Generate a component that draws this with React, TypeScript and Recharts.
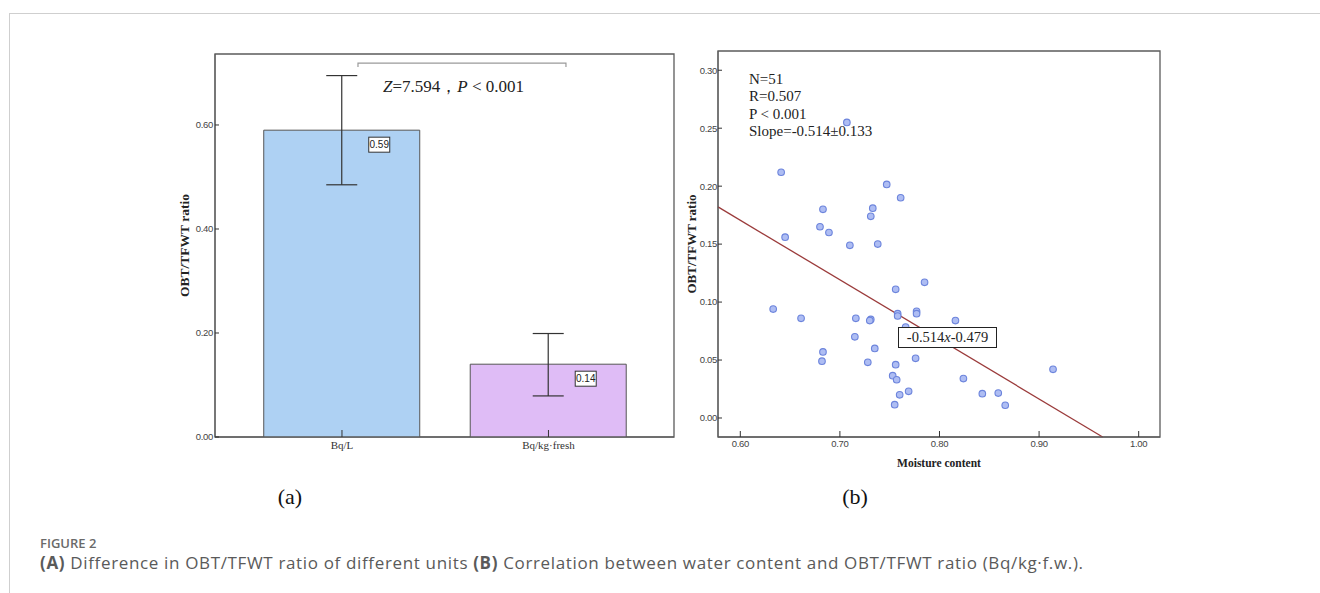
import React from 'react';
import {
  Bar,
  BarChart,
  Cell,
  ErrorBar,
  Label,
  LabelList,
  ReferenceArea,
  ReferenceLine,
  Scatter,
  ScatterChart,
  XAxis,
  YAxis,
} from 'recharts';

// panel (a): mean OBT/TFWT ratio per unit
const units = ['Bq/L', 'Bq/kg·fresh'];
const ratioMeans = [0.59, 0.14];
const ratioErrors = [
  [0.105, 0.105],
  [0.061, 0.059],
];
const barFills = ['#aed1f3', '#dfbcf6'];
const barTicks = [0, 0.2, 0.4, 0.6];

// panel (b): moisture content vs OBT/TFWT ratio
const moisture = [
  0.707, 0.641, 0.747, 0.761, 0.683, 0.733, 0.731, 0.68, 0.689, 0.645, 0.71, 0.738, 0.785, 0.756,
  0.633, 0.661, 0.716, 0.731, 0.73, 0.758, 0.758, 0.777, 0.777, 0.816, 0.766, 0.715, 0.735, 0.683,
  0.682, 0.728, 0.756, 0.776, 0.753, 0.757, 0.769, 0.76, 0.755, 0.824, 0.843, 0.859, 0.866, 0.914,
];
const obtRatio = [
  0.255, 0.212, 0.2015, 0.19, 0.18, 0.181, 0.174, 0.165, 0.16, 0.156, 0.149, 0.15, 0.117, 0.111,
  0.094, 0.086, 0.086, 0.085, 0.084, 0.09, 0.088, 0.092, 0.09, 0.084, 0.0785, 0.07, 0.06, 0.057,
  0.049, 0.048, 0.046, 0.0515, 0.0365, 0.033, 0.023, 0.02, 0.0115, 0.034, 0.021, 0.0215, 0.011, 0.042,
];
const moistureTicks = [0.6, 0.7, 0.8, 0.9, 1.0];
const ratioTicks = [0, 0.05, 0.1, 0.15, 0.2, 0.25, 0.3];
const fitSlope = -0.514;
const fitIntercept = 0.479;

const stats = ['N=51', 'R=0.507', 'P < 0.001', 'Slope=-0.514±0.133'];

const SERIF = "'Liberation Serif', 'Times New Roman', serif";
const NARROW = "'Liberation Sans Narrow', 'Liberation Sans', Arial, sans-serif";
const AXIS = '#5b5b5b';

// bars sit at positions 0 and 1 of a numeric axis so the plot frame can span the whole area
const barData = units.map((unit, i) => ({ pos: i, unit, mean: ratioMeans[i], err: ratioErrors[i] }));
const scatterData = moisture.map((x, i) => ({ x, y: obtRatio[i] }));

const barXDomain = [-0.615, 1.608];
const barDomain = [0, 0.7365];
const xDomain = [0.5776, 1.0214];
const yDomain = [-0.0164, 0.3166];
const fitStart = { x: xDomain[0], y: fitSlope * xDomain[0] + fitIntercept };
const fitEnd = { x: (yDomain[0] - fitIntercept) / fitSlope, y: yDomain[0] };

const tickStyle = { fontSize: 9.5, fill: '#444', fontFamily: NARROW, letterSpacing: -0.3 };
const tickLine = { stroke: '#333', strokeWidth: 1 };

function ValueBox(props: any) {
  const { x, y, width, value } = props;
  const left = x + width / 2 + 27;
  const top = y + 7;
  return (
    <g>
      <rect x={left} y={top} width={21} height={15} fill="#fff" stroke="#333" strokeWidth={1} />
      <text x={left + 10.5} y={top + 11} textAnchor="middle" fontSize={10} fontFamily={NARROW} fill="#222">
        {Number(value).toFixed(2)}
      </text>
    </g>
  );
}

function Bracket(props: any) {
  const { x1, y1, x2 } = props;
  const a = x1 + 16;
  const b = x2 + 17.5;
  return (
    <g>
      <path d={`M${a},${y1 + 4}V${y1}H${b}V${y1 + 4}`} fill="none" stroke="#9a9a9a" strokeWidth={1.2} />
      <text x={x1 + 41} y={y1 + 29} fontSize={17} fontFamily={SERIF} fill="#222">
        <tspan fontStyle="italic">Z</tspan>=7.594，<tspan fontStyle="italic">P</tspan> &lt; 0.001
      </text>
    </g>
  );
}

function Dot(props: any) {
  const { cx, cy } = props;
  return <circle cx={cx} cy={cy} r={3.3} fill="#aebdf3" stroke="#6c84dc" strokeWidth={1.1} />;
}

export default function App() {
  return (
    <div
      style={{
        position: 'absolute',
        left: 0,
        top: 0,
        width: 1320,
        height: 593,
        background: '#fff',
        overflow: 'hidden',
      }}
    >
      <div
        style={{
          position: 'absolute',
          left: 9,
          top: 13,
          width: 1320,
          height: 600,
          borderTop: '1px solid #cfcfcf',
          borderLeft: '1px solid #cfcfcf',
        }}
      />

      <div style={{ position: 'absolute', left: 150, top: 40 }}>
        <BarChart width={540} height={430} data={barData} margin={{ top: 14, right: 16, left: 0, bottom: 0 }}>
          <ReferenceArea
            x1={barXDomain[0]}
            x2={barXDomain[1]}
            y1={barDomain[0]}
            y2={barDomain[1]}
            fill="none"
            stroke={AXIS}
            strokeWidth={1.3}
            ifOverflow="visible"
          />
          <XAxis
            type="number"
            dataKey="pos"
            domain={barXDomain}
            ticks={[0, 1]}
            allowDataOverflow
            tickFormatter={(v: number) => units[v]}
            height={33}
            stroke={AXIS}
            tickLine={tickLine}
            tickSize={-7}
            tickMargin={11}
            tick={{ fontSize: 11, fill: '#333', fontFamily: SERIF }}
          />
          <YAxis
            width={65}
            domain={barDomain}
            ticks={barTicks}
            allowDataOverflow
            tickFormatter={(v: number) => v.toFixed(2)}
            stroke={AXIS}
            tickLine={tickLine}
            tickSize={-4}
            tickMargin={6}
            tick={tickStyle}
          >
            <Label
              value="OBT/TFWT ratio"
              angle={-90}
              position="center"
              dx={2}
              style={{ fontSize: 13.5, fontWeight: 700, fontFamily: SERIF, fill: '#222' }}
            />
          </YAxis>
          <Bar dataKey="mean" barSize={156} stroke="#555" strokeWidth={1} isAnimationActive={false}>
            {barData.map((d, i) => (
              <Cell key={d.unit} fill={barFills[i]} />
            ))}
            <ErrorBar dataKey="err" direction="y" width={15.5} stroke="#333" strokeWidth={1.2} />
            <LabelList dataKey="mean" content={ValueBox} />
          </Bar>
          <ReferenceLine
            segment={[
              { x: 0, y: 0.719 },
              { x: 1, y: 0.719 },
            ]}
            shape={Bracket}
            ifOverflow="visible"
          />
        </BarChart>
      </div>

      <div style={{ position: 'absolute', left: 680, top: 40 }}>
        <ScatterChart width={500} height={430} margin={{ top: 11, right: 20, left: 0, bottom: 0 }}>
          <ReferenceArea
            x1={xDomain[0]}
            x2={xDomain[1]}
            y1={yDomain[0]}
            y2={yDomain[1]}
            fill="none"
            stroke={AXIS}
            strokeWidth={1.3}
            ifOverflow="visible"
          />
          <XAxis
            type="number"
            dataKey="x"
            domain={xDomain}
            ticks={moistureTicks}
            allowDataOverflow
            height={33}
            tickFormatter={(v: number) => v.toFixed(2)}
            stroke={AXIS}
            tickLine={tickLine}
            tickSize={-6}
            tickMargin={9}
            tick={tickStyle}
          >
            <Label
              value="Moisture content"
              position="insideBottom"
              offset={3}
              style={{ fontSize: 11.5, fontWeight: 700, fontFamily: SERIF, fill: '#222' }}
            />
          </XAxis>
          <YAxis
            type="number"
            dataKey="y"
            width={38}
            domain={yDomain}
            ticks={ratioTicks}
            allowDataOverflow
            tickFormatter={(v: number) => v.toFixed(2)}
            stroke={AXIS}
            tickLine={tickLine}
            tickSize={-4}
            tickMargin={5}
            tick={tickStyle}
          >
            <Label
              value="OBT/TFWT ratio"
              angle={-90}
              position="center"
              dx={-8}
              style={{ fontSize: 13, fontWeight: 700, fontFamily: SERIF, fill: '#222' }}
            />
          </YAxis>
          <ReferenceLine segment={[fitStart, fitEnd]} stroke="#9b3b3b" strokeWidth={1.3} ifOverflow="visible" />
          <Scatter data={scatterData} shape={Dot} isAnimationActive={false} />
        </ScatterChart>
      </div>

      <div
        style={{
          position: 'absolute',
          left: 749,
          top: 71,
          fontFamily: SERIF,
          fontSize: 15,
          lineHeight: '17.4px',
          color: '#222',
        }}
      >
        {stats.map((s) => (
          <div key={s}>{s}</div>
        ))}
      </div>

      <div
        style={{
          position: 'absolute',
          left: 898,
          top: 327,
          width: 99,
          height: 21,
          boxSizing: 'border-box',
          border: '1.2px solid #222',
          background: '#fff',
          fontFamily: SERIF,
          fontSize: 14.5,
          color: '#222',
          display: 'flex',
          alignItems: 'center',
          justifyContent: 'center',
        }}
      >
        -0.514<i>x</i>-0.479
      </div>

      <div style={{ position: 'absolute', left: 240, top: 484, width: 100, textAlign: 'center', fontFamily: SERIF, fontSize: 22, lineHeight: '26px', color: '#111' }}>
        (a)
      </div>
      <div style={{ position: 'absolute', left: 805, top: 484, width: 100, textAlign: 'center', fontFamily: SERIF, fontSize: 22, lineHeight: '26px', color: '#111' }}>
        (b)
      </div>

      <div style={{ position: 'absolute', left: 40, top: 535, fontFamily: "'Open Sans', sans-serif", fontSize: 13, fontWeight: 600, color: '#6a6a6a', lineHeight: '16px' }}>
        FIGURE 2
      </div>
      <div style={{ position: 'absolute', left: 40, top: 553, fontFamily: "'Open Sans', sans-serif", fontSize: 17, letterSpacing: 0.65, color: '#5a5a5a', lineHeight: '20px', whiteSpace: 'nowrap' }}>
        <b>(A)</b> Difference in OBT/TFWT ratio of different units <b>(B)</b> Correlation between water content and OBT/TFWT ratio (Bq/kg·f.w.).
      </div>
    </div>
  );
}
